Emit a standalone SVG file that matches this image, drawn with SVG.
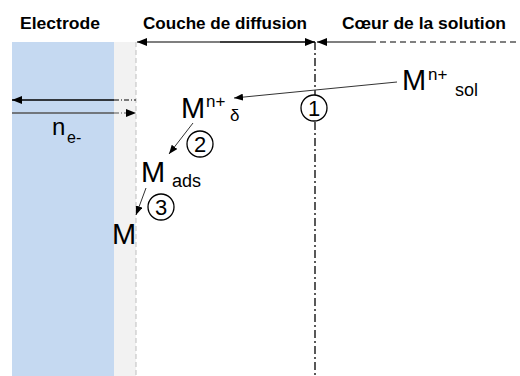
<svg xmlns="http://www.w3.org/2000/svg" width="520" height="376" viewBox="0 0 520 376">
<defs>
<marker id="big" markerUnits="userSpaceOnUse" markerWidth="10" markerHeight="8" refX="10" refY="4" orient="auto"><path d="M0,0 L10,4 L0,8 Z" fill="#000"/></marker>
<marker id="sm" markerUnits="userSpaceOnUse" markerWidth="9" markerHeight="7" refX="9" refY="3.5" orient="auto"><path d="M0,0 L9,3.5 L0,7 Z" fill="#000"/></marker>
</defs>
<style>
.h{font-family:"Liberation Sans",Arial,sans-serif;font-weight:bold;font-size:17px;fill:#000}
.t{font-family:"Liberation Sans",Arial,sans-serif;fill:#000}
.d{font-family:"Liberation Sans",Arial,sans-serif;fill:#000;font-size:22px;text-anchor:middle}
.c{fill:#fff;stroke:#000;stroke-width:1.3}
.ln{stroke:#000;fill:none}
.thin{stroke:#333;stroke-width:1;fill:none}
</style>
<g id="electrode">
<rect x="12" y="42" width="102" height="334" fill="#C5D9F1"/>
<rect x="114" y="42" width="22" height="334" fill="#F2F2F2"/>
<line x1="136" y1="42" x2="136" y2="376" stroke="#BFBFBF" stroke-width="1" stroke-dasharray="5,3"/>
</g>
<g id="headers">
<text class="h" x="20" y="29" textLength="80" lengthAdjust="spacingAndGlyphs">Electrode</text>
<text class="h" x="143" y="29" textLength="164" lengthAdjust="spacingAndGlyphs">Couche de diffusion</text>
<text class="h" x="342" y="29" textLength="164" lengthAdjust="spacingAndGlyphs">Cœur de la solution</text>
</g>
<g id="connectors">
<line class="ln" x1="315" y1="42" x2="137" y2="42" stroke-width="1.2" marker-end="url(#big)"/>
<line class="ln" x1="220" y1="42" x2="315" y2="42" stroke-width="1.2" marker-end="url(#big)"/>
<line class="ln" x1="370" y1="42" x2="317" y2="42" stroke-width="1.2" marker-end="url(#big)"/>
<line x1="370" y1="42" x2="520" y2="42" stroke="#000" stroke-width="1" stroke-dasharray="6,4"/>
<line x1="315" y1="42" x2="315" y2="376" stroke="#000" stroke-width="1.3" stroke-dasharray="8,3,2,3"/>
<line x1="114" y1="100" x2="136" y2="100" stroke="#000" stroke-width="1" stroke-dasharray="5,2,1,2"/>
<line class="ln" x1="114" y1="100" x2="12" y2="100" stroke-width="1.3" marker-end="url(#big)"/>
<line x1="12" y1="113" x2="114" y2="113" stroke="#555" stroke-width="1.3"/>
<line x1="114" y1="113" x2="126" y2="113" stroke="#555" stroke-width="1" stroke-dasharray="5,2,1,2"/>
<path d="M126,113 L136,113" class="ln" stroke-width="0" marker-end="url(#big)"/>
<line class="thin" x1="397" y1="82" x2="234" y2="98" marker-end="url(#sm)"/>
<line class="thin" x1="193" y1="123" x2="169" y2="154" marker-end="url(#sm)"/>
<line class="thin" x1="146" y1="188" x2="136" y2="215" marker-end="url(#sm)"/>
</g>
<g id="ne">
<text class="t" x="52" y="135" font-size="24">n</text>
<text class="t" x="67" y="143" font-size="16">e-</text>
</g>
<g id="msol">
<text class="t" x="402" y="90" font-size="29">M</text>
<text class="t" x="428" y="80" font-size="17">n+</text>
<text class="t" x="455" y="96" font-size="18">sol</text>
</g>
<g id="mdelta">
<text class="t" x="181" y="118" font-size="29">M</text>
<text class="t" x="206" y="107" font-size="17">n+</text>
<text class="t" x="230" y="121" font-size="17">δ</text>
</g>
<g id="mads">
<text class="t" x="141" y="182" font-size="29">M</text>
<text class="t" x="172" y="187" font-size="18">ads</text>
</g>
<g id="m">
<text class="t" x="112" y="244" font-size="29">M</text>
</g>
<g id="step1">
<circle class="c" cx="314" cy="108" r="13"/>
<text class="d" x="314" y="116">1</text>
</g>
<g id="step2">
<circle class="c" cx="200" cy="144" r="13"/>
<text class="d" x="200" y="152">2</text>
</g>
<g id="step3">
<circle class="c" cx="161" cy="207" r="13"/>
<text class="d" x="161" y="215">3</text>
</g>
</svg>
